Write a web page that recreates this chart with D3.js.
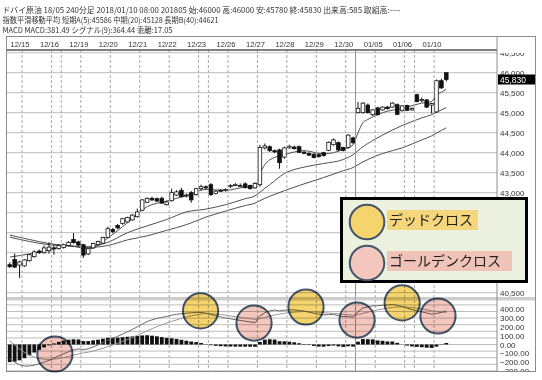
<!DOCTYPE html>
<html>
<head>
<meta charset="utf-8">
<script src="https://cdn.jsdelivr.net/npm/d3@7"></script>
<style>
  body { margin: 0; background: #fff; }
</style>
</head>
<body>
<div id="chart"></div>
<script>
// ---------------------- Data ----------------------

// Session labels and the bar boundaries they sit on
const dateLabels = ["12/15", "12/16", "12/19", "12/20", "12/21", "12/22", "12/23", "12/26",
  "12/27", "12/28", "12/29", "12/30", "01/05", "01/06", "01/10"];
const dateBounds = [3, 9, 15, 21, 27, 33, 39, 45, 51, 57, 63, 69, 75, 81, 87];
const extraBounds = [11, 41, 83];
const yearBound = 71;

// 240 minute candles
const opens = [41200, 41330, 41190, 41170, 41300, 41400, 41540, 41500, 41550, 41620,
  41600, 41630, 41680, 41830, 41770, 41700, 41470, 41620, 41700, 41740,
  41880, 42080, 42180, 42230, 42270, 42320, 42400, 42560, 42760, 42860,
  42850, 42860, 42700, 42800, 42940, 43060, 42920, 43000, 42950, 43100,
  43150, 43200, 42980, 43060, 43050, 43150, 43200, 43180, 43220, 43180,
  43120, 43200, 44120, 44150, 44050, 44070, 43890, 44120, 44140, 44150,
  44010, 43980, 43960, 43950, 44000, 44060, 44200, 44250, 44130, 44130,
  44370, 45000, 45000, 45190, 44950, 45120, 45070, 45140, 45140, 45200,
  45050, 45180, 45070, 45450, 45300, 45320, 45190, 45020, 45800, 46000];
const highs = [41260, 41480, 41300, 41340, 41470, 41560, 41580, 41680, 41760, 41700,
  41720, 41730, 41790, 41990, 41800, 41720, 41620, 41750, 41800, 41900,
  42150, 42120, 42220, 42370, 42400, 42460, 42600, 42840, 42880, 42900,
  42880, 42900, 42800, 43100, 43060, 43120, 42980, 43040, 43120, 43200,
  43180, 43240, 43060, 43090, 43110, 43210, 43240, 43230, 43260, 43200,
  43260, 44200, 44230, 44180, 44080, 44100, 44150, 44200, 44180, 44180,
  44050, 44010, 43990, 43980, 44020, 44280, 44360, 44280, 44150, 44460,
  44400, 45270, 45260, 45230, 45090, 45150, 45160, 45170, 45260, 45230,
  45190, 45200, 45130, 45470, 45380, 45340, 45250, 45830, 45850, 46000];
const lows = [41120, 41120, 40870, 41150, 41280, 41380, 41470, 41480, 41480, 41450,
  41580, 41600, 41660, 41730, 41670, 41370, 41440, 41600, 41680, 41720,
  41860, 41990, 42090, 42200, 42250, 42300, 42380, 42540, 42740, 42790,
  42770, 42720, 42680, 42780, 42920, 42880, 42880, 42750, 42930, 43060,
  43080, 42920, 42960, 43030, 43030, 43120, 43170, 43150, 43100, 43080,
  43100, 43150, 44080, 44020, 43990, 43600, 43850, 44100, 44080, 43990,
  43960, 43920, 43860, 43880, 43900, 44040, 44180, 44040, 44030, 44100,
  44220, 44980, 44980, 44980, 44920, 44930, 45050, 45080, 45120, 44940,
  45030, 45040, 45050, 45260, 45260, 45120, 44980, 44990, 45600, 45780];
const closes = [41150, 41140, 41270, 41320, 41450, 41520, 41500, 41620, 41640, 41610,
  41680, 41700, 41760, 41750, 41690, 41440, 41600, 41730, 41780, 41880,
  42100, 42030, 42120, 42350, 42380, 42440, 42520, 42820, 42860, 42820,
  42790, 42740, 42770, 43000, 43020, 42900, 42940, 42820, 43100, 43150,
  43120, 42950, 43040, 43050, 43080, 43180, 43200, 43180, 43130, 43100,
  43230, 44130, 44170, 44050, 44020, 43750, 44120, 44160, 44100, 44010,
  43990, 43940, 43880, 43900, 43930, 44260, 44320, 44070, 44060, 44440,
  44250, 45110, 45240, 45000, 45070, 44950, 45140, 45100, 45240, 44960,
  45170, 45060, 45110, 45280, 45330, 45140, 45230, 45800, 45620, 45830];

// Moving averages, sampled at these bars
const emaIdx = [0, 4, 8, 12, 16, 20, 24, 28, 32, 36, 40, 44, 48, 50, 51, 52,
  53, 56, 60, 64, 68, 70, 71, 72, 73, 76, 80, 84, 86, 87, 88, 89];
const emaShort = [41390, 41470, 41570, 41680, 41590, 41870, 42250, 42650, 42790, 42930, 43080, 43060, 43140, 43150, 43470, 43700,
  43820, 43950, 44050, 43970, 44080, 44200, 44500, 44750, 44830, 45000, 45110, 45240, 45280, 45450, 45510, 45586];
const emaMid = [41890, 41780, 41700, 41670, 41650, 41760, 42000, 42170, 42330, 42520, 42590, 42700, 42850, 42920, 43010, 43110,
  43200, 43480, 43640, 43730, 43830, 43950, 44050, 44150, 44230, 44440, 44680, 44870, 44950, 45010, 45070, 45128];
const emaLong = [41940, 41830, 41730, 41670, 41630, 41680, 41820, 41920, 42060, 42200, 42390, 42540, 42680, 42740, 42800, 42860,
  42910, 43050, 43220, 43380, 43550, 43630, 43700, 43770, 43830, 43980, 44120, 44320, 44420, 44490, 44560, 44621];

// MACD panel
const macd = [-160, -200, -230, -245, -245, -235, -220, -200, -180, -155,
  -130, -105, -82, -62, -50, -58, -48, -28, -5, 22,
  52, 72, 92, 118, 145, 172, 200, 232, 260, 280,
  296, 308, 318, 333, 343, 350, 356, 360, 365, 364,
  356, 340, 326, 313, 301, 292, 283, 274, 265, 256,
  248, 322, 362, 382, 392, 382, 390, 394, 393, 386,
  380, 368, 355, 344, 336, 340, 342, 328, 316, 318,
  308, 372, 415, 428, 440, 440, 446, 448, 455, 445,
  430, 412, 396, 384, 372, 358, 345, 352, 366, 381.49];
const signal = [40, -5, -50, -90, -121, -144, -159, -167, -170, -167,
  -160, -149, -136, -121, -107, -97, -87, -75, -59, -43,
  -24, -5, 14, 35, 57, 80, 104, 129, 155, 180,
  203, 224, 243, 262, 280, 297, 313, 326, 338, 347,
  352, 350, 346, 340, 333, 325, 317, 309, 301, 293,
  286, 293, 307, 322, 336, 345, 354, 362, 368, 372,
  374, 374, 371, 367, 361, 357, 354, 349, 343, 338,
  332, 340, 353, 368, 382, 394, 404, 413, 421, 426,
  428, 424, 418, 411, 403, 394, 384, 376, 370, 364.44];
const hist = [-200, -195, -180, -155, -124, -91, -61, -33, -10, 12,
  30, 44, 54, 59, 57, 39, 39, 47, 54, 65,
  76, 77, 78, 83, 88, 92, 96, 103, 105, 100,
  93, 84, 75, 71, 63, 53, 43, 34, 27, 17,
  4, -8, -15, -19, -22, -23, -24, -24, -25, -25,
  -26, 29, 55, 60, 56, 37, 36, 32, 25, 14,
  6, -6, -16, -23, -25, -17, -12, -21, -27, -20,
  -24, 32, 62, 60, 58, 46, 42, 35, 34, 19,
  2, -12, -22, -27, -31, -36, -39, -24, -4, 17.05];

// Cross markers (bar position, MACD value, kind)
const crossIdx = [9.2, 38.9, 49.8, 60.4, 70.8, 80.0, 87.3];
const crossVal = [-108, 381, 244, 426, 278, 472, 324];
const crossType = ["golden", "dead", "golden", "dead", "golden", "dead", "golden"];

const priceTicks = [40500, 41000, 41500, 42000, 42500, 43000, 43500, 44000, 44500, 45000, 45500, 46000, 46500];
const macdLabels = [400, 300, 200, 100, 0, -100, -200, -300];
const macdGrid = [-300, -225, -150, -75, 0, 75, 150, 225, 300, 375, 450, 525];

const headerLines = [
  "ドバイ原油 18/05 240分足 2018/01/10 08:00 201805 始:46000 高:46000 安:45780 終:45830 出来高:585 取組高:----",
  "指数平滑移動平均 短期A(5):45586 中期(20):45128 長期B(40):44621",
  "MACD MACD:381.49 シグナル(9):364.44 乖離:17.05"
];
const headerWidths = [398, 216, 170];

// ---------------------- Layout ----------------------
const box = { left: 6, top: 36, right: 536, bottom: 371, axis: 497, dateBottom: 50, split: 299 };
const colors = { dead: "#f5d46e", golden: "#f3c6be", ring: "#44546a", grid: "#bdbdbd", vgrid: "#a9a9a9" };

const svg = d3.select("#chart")
  .append("svg")
  .attr("width", 542)
  .attr("height", 380)
  .style("font-family", "'Liberation Sans', Arial, sans-serif");

const defs = svg.append("defs");
function addClip(id, x, y, w, h) {
  defs.append("clipPath").attr("id", id)
    .append("rect").attr("x", x).attr("y", y).attr("width", w).attr("height", h);
}
addClip("clipMain", box.left, box.dateBottom, box.axis - box.left, box.split - 1 - box.dateBottom);
addClip("clipMacd", box.left, box.split + 1, box.axis - box.left, box.bottom - box.split - 1);
addClip("clipAxisMain", box.axis, box.dateBottom + 3, box.right - box.axis, box.split - 4 - box.dateBottom);
addClip("clipAxisMacd", box.axis, box.split + 1, box.right - box.axis, box.bottom - box.split - 1);

// Scales
const x = d3.scaleLinear().domain([0, 100]).range([7.3, 497.8]);
const yP = d3.scaleLinear().domain([40500, 46000]).range([292.7, 72.7]);
const yM = d3.scaleLinear().domain([0, 400]).range([344.5, 309.3]);

// ---------------------- Header text ----------------------
headerLines.forEach((t, k) => {
  svg.append("text")
    .attr("x", 2.5)
    .attr("y", 12.5 + k * 10.3)
    .attr("font-family", "'Noto Sans CJK JP', sans-serif")
    .attr("font-size", "8px")
    .attr("fill", "#333")
    .attr("textLength", headerWidths[k])
    .attr("lengthAdjust", "spacingAndGlyphs")
    .text(t);
});

// ---------------------- Price panel ----------------------
const main = svg.append("g").attr("clip-path", "url(#clipMain)");

main.selectAll(".hgrid")
  .data(priceTicks)
  .enter().append("line")
  .attr("x1", box.left).attr("x2", box.axis)
  .attr("y1", d => yP(d)).attr("y2", d => yP(d))
  .attr("stroke", colors.grid);

// Vertical session lines through both panels
const vlines = svg.append("g");
vlines.selectAll("line")
  .data(dateBounds.concat(extraBounds))
  .enter().append("line")
  .attr("x1", d => x(d)).attr("x2", d => x(d))
  .attr("y1", box.dateBottom).attr("y2", box.bottom)
  .attr("stroke", colors.vgrid)
  .attr("stroke-dasharray", "3,2");
vlines.append("line")
  .attr("x1", x(yearBound)).attr("x2", x(yearBound))
  .attr("y1", box.dateBottom).attr("y2", box.bottom)
  .attr("stroke", "#909090");

// Moving averages
const emaLine = vals => d3.line()
  .x((d, i) => x(emaIdx[i] + 0.5))
  .y(d => yP(d))
  .curve(d3.curveMonotoneX)(vals);

[emaLong, emaMid, emaShort].forEach(vals => {
  main.append("path")
    .attr("d", emaLine(vals))
    .attr("fill", "none")
    .attr("stroke", "#505050")
    .attr("stroke-width", 1);
});

// Candles
const candles = main.selectAll(".candle")
  .data(d3.range(opens.length))
  .enter().append("g");

candles.append("line")
  .attr("x1", i => x(i + 0.5)).attr("x2", i => x(i + 0.5))
  .attr("y1", i => yP(highs[i])).attr("y2", i => yP(lows[i]))
  .attr("stroke", "#111");

candles.append("rect")
  .attr("x", i => x(i + 0.5) - 1.8)
  .attr("width", 3.6)
  .attr("y", i => yP(Math.max(opens[i], closes[i])))
  .attr("height", i => Math.max(1, Math.abs(yP(opens[i]) - yP(closes[i]))))
  .attr("fill", i => closes[i] >= opens[i] ? "#fff" : "#111")
  .attr("stroke", "#111")
  .attr("stroke-width", 0.8);

// Right axis labels
svg.append("g").attr("clip-path", "url(#clipAxisMain)")
  .selectAll("text")
  .data(priceTicks)
  .enter().append("text")
  .attr("x", 500)
  .attr("y", d => yP(d) + 3)
  .attr("font-size", "8px")
  .attr("fill", "#333")
  .text(d => d3.format(",")(d));

// Last price tag
const last = closes[closes.length - 1];
svg.append("rect")
  .attr("x", 498).attr("y", yP(last) - 5)
  .attr("width", 38).attr("height", 10)
  .attr("fill", "#000");
svg.append("text")
  .attr("x", 500).attr("y", yP(last) + 3)
  .attr("font-size", "8.5px")
  .attr("fill", "#fff")
  .text(d3.format(",")(last));

// ---------------------- MACD panel ----------------------
const sub = svg.append("g").attr("clip-path", "url(#clipMacd)");

sub.selectAll(".mgrid")
  .data(macdGrid)
  .enter().append("line")
  .attr("x1", box.left).attr("x2", box.axis)
  .attr("y1", d => yM(d)).attr("y2", d => yM(d))
  .attr("stroke", colors.grid);

sub.selectAll(".bar")
  .data(hist)
  .enter().append("rect")
  .attr("x", (d, i) => x(i + 0.5) - 1.9)
  .attr("width", 3.8)
  .attr("y", d => Math.min(yM(d), yM(0)))
  .attr("height", d => Math.abs(yM(d) - yM(0)))
  .attr("fill", "#111");

const macdPath = d3.line().x((d, i) => x(i + 0.5)).y(d => yM(d));
sub.append("path").attr("d", macdPath(signal))
  .attr("fill", "none").attr("stroke", "#9a9a9a").attr("stroke-width", 1);
sub.append("path").attr("d", macdPath(macd))
  .attr("fill", "none").attr("stroke", "#6a6a6a").attr("stroke-width", 1);

svg.append("g").attr("clip-path", "url(#clipAxisMacd)")
  .selectAll("text")
  .data(macdLabels)
  .enter().append("text")
  .attr("x", 500)
  .attr("y", d => yM(d) + 3)
  .attr("font-size", "8px")
  .attr("fill", "#333")
  .text(d => d3.format(".2f")(d));

// ---------------------- Frame and date row ----------------------
svg.append("line")
  .attr("x1", box.left).attr("x2", box.right)
  .attr("y1", box.split - 1).attr("y2", box.split - 1)
  .attr("stroke", "#9a9a9a");
svg.append("line")
  .attr("x1", box.left).attr("x2", box.right)
  .attr("y1", box.split + 0.8).attr("y2", box.split + 0.8)
  .attr("stroke", "#cfcfcf").attr("stroke-width", 1.5);

svg.append("line")
  .attr("x1", box.left).attr("x2", box.axis)
  .attr("y1", box.dateBottom).attr("y2", box.dateBottom)
  .attr("stroke", "#555").attr("stroke-width", 1.5);

svg.selectAll(".date")
  .data(dateLabels)
  .enter().append("text")
  .attr("x", (d, i) => x(dateBounds[i]) - 2)
  .attr("y", 46.5)
  .attr("text-anchor", "middle")
  .attr("font-size", "7.6px")
  .attr("fill", "#333")
  .text(d => d);

svg.append("rect")
  .attr("x", box.left + 0.5).attr("y", box.top + 0.5)
  .attr("width", box.right - box.left - 1).attr("height", box.bottom - box.top)
  .attr("fill", "none").attr("stroke", "#8c8c8c");
svg.append("line")
  .attr("x1", box.axis).attr("x2", box.axis)
  .attr("y1", box.top).attr("y2", box.bottom)
  .attr("stroke", "#8c8c8c");

// ---------------------- Legend ----------------------
const legend = svg.append("g");
legend.append("rect")
  .attr("x", 341.5).attr("y", 198.5)
  .attr("width", 185).attr("height", 83)
  .attr("fill", "#ebf1de")
  .attr("stroke", "#000").attr("stroke-width", 3);

const legendItems = [
  { kind: "dead", label: "デッドクロス", cy: 222, w: 91 },
  { kind: "golden", label: "ゴールデンクロス", cy: 263, w: 125 }
];
legendItems.forEach(it => {
  legend.append("rect")
    .attr("x", 387).attr("y", it.cy - 12)
    .attr("width", it.w).attr("height", 20)
    .attr("fill", it.kind === "dead" ? "#f4d77c" : "#f0c3b8");
  legend.append("circle")
    .attr("cx", 367).attr("cy", it.cy).attr("r", 17.3)
    .attr("fill", colors[it.kind])
    .attr("stroke", colors.ring).attr("stroke-width", 2);
  legend.append("text")
    .attr("x", 389).attr("y", it.cy + 3)
    .attr("font-family", "'Noto Sans CJK JP', sans-serif")
    .attr("font-size", "14px")
    .attr("fill", "#222")
    .text(it.label);
});

// ---------------------- Cross markers ----------------------
svg.append("g").selectAll("circle")
  .data(crossIdx)
  .enter().append("circle")
  .attr("cx", d => x(d + 0.5))
  .attr("cy", (d, i) => yM(crossVal[i]))
  .attr("r", 17.6)
  .attr("fill", (d, i) => colors[crossType[i]])
  .attr("stroke", colors.ring)
  .attr("stroke-width", 2)
  .style("mix-blend-mode", "multiply");
</script>
</body>
</html>
